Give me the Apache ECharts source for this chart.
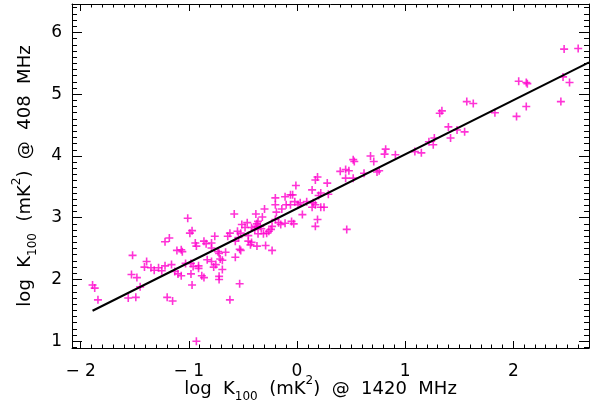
<!DOCTYPE html>
<html><head><meta charset="utf-8">
<script src="https://cdn.jsdelivr.net/npm/echarts@6/dist/echarts.min.js"></script>
<style>html,body{margin:0;padding:0;background:#fff}#c{width:599px;height:409px}</style>
</head><body><div id="c"></div>
<script>
// log K100 @ 1420 MHz
const x1420 = [-1.89,-1.87,-1.84,-1.56,-1.49,-1.52,-1.53,-1.48,-1.45,-1.39,-1.41,-1.35,-1.32,-1.28,-1.25,-1.22,-1.16,-1.22,-1.18,-1.11,
 -1.07,-1.06,-1.01,-0.99,-0.97,-0.94,-0.93,-1.20,-1.15,-1.13,-1.10,-1.07,-1.03,-0.98,-0.96,-0.98,-0.91,-0.91,-0.97,-0.93,
 -0.86,-0.84,-0.79,-0.79,-0.76,-0.73,-0.88,-0.86,-0.83,-0.79,-0.77,-0.75,-0.72,-0.72,-0.71,-0.69,-0.69,-0.72,-0.62,
 -0.58,-0.64,-0.62,-0.55,-0.51,-0.46,-0.48,-0.45,-0.42,-0.43,-0.37,-0.29,-0.23,-0.53,-0.52,-0.57,-0.66,-0.53,
 -0.38,-0.32,-0.30,-0.36,-0.37,-0.38,-0.34,-0.33,-0.42,-0.39,-0.36,-0.23,-0.24,-0.26,-0.28,-0.31,
 -0.20,-0.20,-0.14,-0.19,-0.20,-0.17,-0.11,-0.05,-0.03,0.05,-0.11,-0.10,-0.06,-0.04,-0.06,-0.02,0.01,-0.01,
 -0.45,-0.52,-0.54,-0.57,-0.15,
 0.82,0.81,0.91,0.68,0.71,0.52,0.53,0.40,0.45,0.48,0.62,0.74,0.76,0.45,0.52,0.17,0.19,0.28,0.14,0.22,0.20,0.29,
 0.03,0.09,0.15,0.17,0.14,0.22,0.25,0.19,0.17,0.46,
 1.09,1.15,1.22,1.27,1.26,1.42,1.40,1.48,1.55,1.32,1.34,1.57,1.63,1.83,2.03,2.12,2.05,2.12,2.13,2.44,2.46,2.52,2.47,2.60];
// log K100 @ 408 MHz
const y408 = [1.91,1.86,1.67,1.70,1.71,2.39,2.08,2.03,1.88,2.29,2.20,2.19,2.15,2.19,2.14,2.22,2.24,2.61,2.67,2.47,
 2.48,2.45,2.99,2.75,2.79,2.59,2.54,1.71,1.65,2.13,2.09,2.06,2.26,2.26,2.21,2.09,2.22,2.18,1.91,1.00,
 2.62,2.58,2.59,2.51,2.70,2.45,2.06,2.03,2.32,2.29,2.20,2.24,2.05,2.00,2.33,2.31,2.16,2.42,1.67,
 3.06,2.70,2.75,2.78,2.89,2.92,2.84,2.62,2.60,2.56,2.54,2.55,2.47,2.49,2.47,2.36,2.44,1.93,
 3.06,3.01,3.14,2.94,2.90,2.86,2.86,2.82,2.84,2.81,2.74,2.86,2.81,2.78,2.75,2.74,
 3.32,3.21,3.14,3.09,2.97,2.92,2.91,2.94,2.90,3.05,3.34,3.21,3.37,3.37,3.21,3.26,3.21,3.52,
 2.71,2.75,2.68,2.62,2.89,
 4.11,4.03,4.02,4.00,3.91,3.94,3.91,3.75,3.78,3.76,3.72,3.74,3.76,3.64,3.64,3.61,3.66,3.56,3.45,3.40,3.36,3.38,
 3.24,3.26,3.24,3.21,3.17,3.17,3.17,2.97,2.86,2.81,
 4.07,4.05,4.23,4.29,4.18,4.29,4.47,4.42,4.39,4.69,4.73,4.88,4.85,4.70,4.64,4.80,5.21,5.19,5.17,4.88,5.28,5.19,5.73,5.74];
// fitted line
const fitSlope = 0.876, fitIntercept = 3.149, fitXStart = -1.89, fitXEnd = 2.70;
const xTicks = [-2, -1, 0, 1, 2];
const yTicks = [1, 2, 3, 4, 5, 6];
const xMin = -2.08, xMax = 2.70, yMin = 0.89, yMax = 6.46;

function minors(lo, hi, majors) {
  const out = [];
  for (let i = Math.ceil(lo * 10); i <= Math.floor(hi * 10); i++) {
    const v = i / 10;
    if (!majors.some(m => Math.abs(m - v) < 1e-9)) out.push(v);
  }
  return out;
}
const xMinor = minors(xMin, xMax, xTicks);
const yMinor = minors(yMin, yMax, yTicks);

const points = x1420.map((x, i) => [x, y408[i]]);
const fitLine = [fitXStart, fitXEnd].map(x => [x, fitIntercept + fitSlope * x]);

const FONT = 'DejaVu Sans';
const lineStyle = {color: '#000', width: 1};
function axis(kind, pos, vals, len, showLine, labels, extra) {
  const isX = kind === 'x';
  return Object.assign({
    type: 'value', position: pos,
    min: isX ? xMin : yMin, max: isX ? xMax : yMax,
    axisLine: {show: showLine, onZero: false, lineStyle: lineStyle},
    axisTick: {show: true, inside: true, length: len, customValues: vals, lineStyle: lineStyle},
    axisLabel: labels ? {show: true, customValues: vals, color: '#000', fontFamily: FONT, fontSize: 17,
      margin: isX ? 15 : 10, formatter: v => String(v).replace('-', '\u2212 ')} : {show: false},
    splitLine: {show: false}, minorTick: {show: false}, nameMoveOverlap: false
  }, extra || {});
}
const nameRich = {
  n: {fontFamily: FONT, fontSize: 18, color: '#000', lineHeight: 26},
  sub: {fontFamily: FONT, fontSize: 12, color: '#000', verticalAlign: 'bottom', lineHeight: 12, padding: [0,0,-1,0]},
  sup: {fontFamily: FONT, fontSize: 12, color: '#000', verticalAlign: 'top', lineHeight: 12, padding: [-1,0,0,0]}
};
const chart = echarts.init(document.getElementById('c'), null, {renderer: 'canvas'});
chart.setOption({
  animation: false,
  backgroundColor: '#fff',
  grid: {left: 72, right: 10, top: 4, bottom: 61, containLabel: false, outerBoundsMode: 'none'},
  xAxis: [
    axis('x', 'bottom', xTicks, 7, true, true, {
      name: '{n|log  K}{sub|100}{n|  (mK}{sup|2}{n|)  @  1420  MHz}', nameLocation: 'middle', nameGap: 28,
      nameTextStyle: {rich: nameRich, padding: [0, 20, 0, 0]}}),
    axis('x', 'bottom', xMinor, 3.5, false, false),
    axis('x', 'top', xTicks, 7, true, false),
    axis('x', 'top', xMinor, 3.5, false, false)
  ],
  yAxis: [
    axis('y', 'left', yTicks, 10, true, true, {
      name: '{n|log  K}{sub|100}{n|  (mK}{sup|2}{n|)  @  408  MHz}', nameLocation: 'middle', nameGap: 34,
      nameTextStyle: {rich: nameRich}}),
    axis('y', 'left', yMinor, 5, false, false),
    axis('y', 'right', yTicks, 10, true, false),
    axis('y', 'right', yMinor, 5, false, false)
  ],
  series: [
    {type: 'scatter', data: points, xAxisIndex: 0, yAxisIndex: 0,
     symbol: 'path://M4,0L6,0L6,4L10,4L10,6L6,6L6,10L4,10L4,6L0,6L0,4L4,4Z', symbolSize: 8,
     itemStyle: {color: '#ff00cc'}, silent: true},
    {type: 'line', data: fitLine, xAxisIndex: 0, yAxisIndex: 0, symbol: 'none',
     lineStyle: {color: '#000', width: 2}, silent: true}
  ]
});
</script></body></html>
